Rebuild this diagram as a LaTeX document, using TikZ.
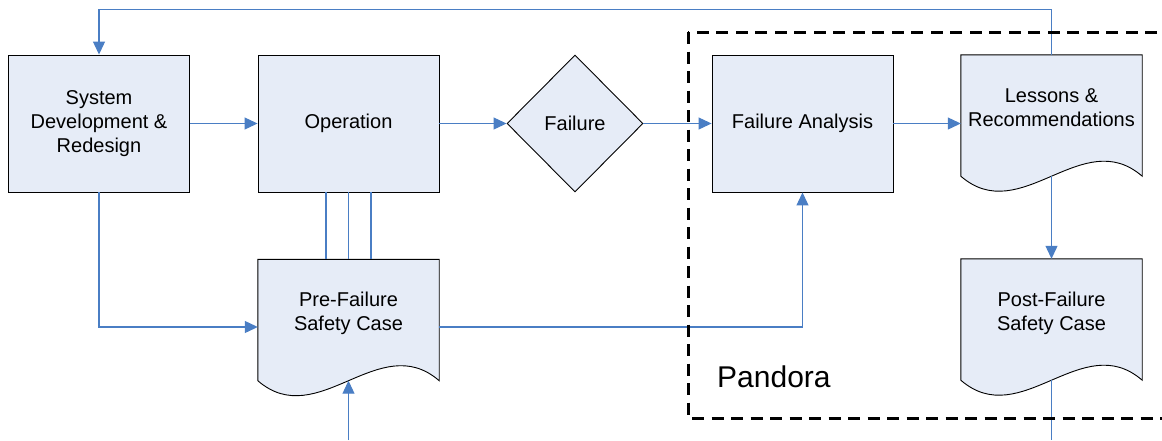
\documentclass[tikz,border=0pt]{standalone}
\usepackage{fontspec}
\setmainfont{Liberation Sans}
\usetikzlibrary{shapes.geometric,arrows.meta,calc,backgrounds}
\definecolor{boxfill}{RGB}{230,236,247}
\definecolor{linkblue}{RGB}{74,126,196}
\newcommand{\doctext}[2]{\raisebox{1pt}[0pt][0pt]{\begin{tabular}{@{}c@{}}#1\\#2\end{tabular}}}
\tikzset{
  box/.style={draw=black, fill=boxfill, line width=0.9pt, minimum width=181pt, minimum height=137pt,
    inner sep=0pt, align=center, font=\fontsize{20}{24}\selectfont},
  docnode/.style={draw=none, minimum width=181pt, minimum height=121pt, inner sep=0pt,
    font=\fontsize{20}{24}\selectfont},
  docline/.style={draw=black, fill=boxfill, line width=0.9pt},
  decision/.style={diamond, draw=black, fill=boxfill, line width=0.9pt, minimum width=136pt,
    minimum height=137pt, inner sep=0pt, font=\fontsize{20}{24}\selectfont},
  conn/.style={draw=linkblue, line width=1.1pt},
  arr/.style={conn, -{Triangle[length=13pt,width=12pt]}},
  pandorabox/.style={draw=black, line width=3pt, dash pattern=on 12pt off 7.5pt},
}
\newcommand{\docoutline}[1]{%
  \path[docline] (#1.south west) -- (#1.north west) -- (#1.north east) -- (#1.south east)
    .. controls ($(#1.south east)+(-60,-52)$) and ($(#1.south west)+(60,52)$) .. (#1.south west) -- cycle;}
\begin{document}
\begin{tikzpicture}[x=1pt,y=-1pt]
\useasboundingbox (0,0) rectangle (1162,440);
\clip (0,0) rectangle (1162,440);

\node[box] (sys) at (99,123.5) {System\\Development \&\\Redesign};
\node[box] (op) at (348.5,123.5) {Operation};
\node[decision] (fail) at (575,123.5) {Failure};
\node[box] (fa) at (802.5,123.5) {Failure Analysis};
\node[docnode] (les) at (1051.5,115.5) {\doctext{Lessons \&}{Recommendations}};
\node[docnode] (pre) at (348.5,320) {\doctext{Pre-Failure}{Safety Case}};
\node[docnode] (post) at (1051.5,319.5) {\doctext{Post-Failure}{Safety Case}};
\node[anchor=base west, inner sep=0pt, font=\fontsize{30}{36}\selectfont] (pandora) at (717,387) {Pandora};

\begin{scope}[on background layer]
  \docoutline{les}
  \docoutline{pre}
  \docoutline{post}
\end{scope}

\coordinate (bin) at (348.5,440);
\coordinate (pout) at (1051.5,440);

\draw[arr] (sys) -- (op);
\draw[arr] (op) -- (fail);
\draw[arr] (fail) -- (fa);
\draw[arr] (fa.east) -- (fa.east -| les.west);
\draw[arr] (les.north) -- ++(0,-45) -| (sys.north);
\draw[arr] (sys.south) |- ($(pre.west)+(0,7)$);
\draw[arr] ($(pre.east)+(0,7)$) -| (fa.south);
\draw[conn] ($(op.south)+(-22.5,0)$) -- ($(pre.north)+(-22.5,0)$);
\draw[conn] (op.south) -- (pre.north);
\draw[conn] ($(op.south)+(22.5,0)$) -- ($(pre.north)+(22.5,0)$);
\draw[arr] (bin) -- (pre.south);
\draw[arr] (les.south) -- (post.north);
\draw[conn] (post.south) -- (pout);

\draw[pandorabox] (688,32) rectangle (1180,418);
\end{tikzpicture}
\end{document}
